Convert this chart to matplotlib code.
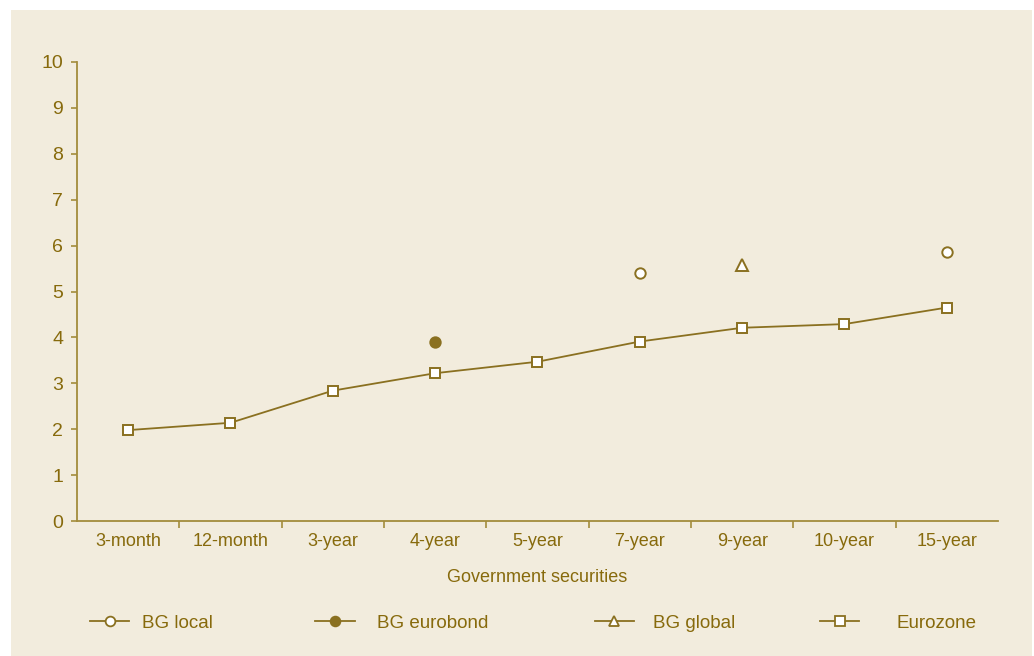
import matplotlib
matplotlib.use("Agg")
import matplotlib.pyplot as plt
import numpy as np
from matplotlib.patches import Rectangle
from matplotlib.lines import Line2D

categories = ["3-month", "12-month", "3-year", "4-year", "5-year",
              "7-year", "9-year", "10-year", "15-year"]
eurozone = [1.98, 2.14, 2.84, 3.22, 3.47, 3.91, 4.21, 4.29, 4.65]
bg_local = [None, None, None, None, None, 5.41, None, None, 5.86]
bg_eurobond = [None, None, None, 3.91, None, None, None, None, None]
bg_global = [None, None, None, None, None, None, 5.58, None, None]
yticks = list(range(0, 11))

BG = "#f2ecdd"
LINE = "#8a7020"
TXT = "#876a0c"
SPINE = "#a38c3c"

plt.rcParams["font.family"] = ["Liberation Sans Narrow", "Liberation Sans", "DejaVu Sans"]

fig = plt.figure(figsize=(10.34, 6.56), dpi=100)
fig.patches.append(Rectangle((11 / 1034, 0), 1021 / 1034, 646 / 656,
                             transform=fig.transFigure, facecolor=BG,
                             edgecolor="none", zorder=-10))
ax = fig.add_axes([77 / 1034, 1 - 521 / 656, 921 / 1034, 459 / 656])
ax.set_facecolor("none")

x = np.arange(len(categories))


def pts(vals):
    xs = [i for i, v in enumerate(vals) if v is not None]
    return xs, [vals[i] for i in xs]


ax.plot(x, eurozone, color=LINE, lw=1.3, marker="s", ms=7.5, mfc="white",
        mec=LINE, mew=1.4, zorder=3)
xs, ys = pts(bg_local)
ax.plot(xs, ys, ls="none", marker="o", ms=7.5, mfc="white", mec=LINE, mew=1.4, zorder=3)
xs, ys = pts(bg_eurobond)
ax.plot(xs, ys, ls="none", marker="o", ms=7.5, mfc=LINE, mec=LINE, mew=1.4, zorder=3)
xs, ys = pts(bg_global)
ax.plot(xs, ys, ls="none", marker="^", ms=8, mfc="white", mec=LINE, mew=1.4, zorder=3)

ax.set_xlim(-0.5, len(categories) - 0.5)
ax.set_ylim(0, 10)
ax.set_yticks(yticks)
ax.set_xticks(x)
ax.set_xticklabels(categories)
ax.set_xticks(np.arange(0.5, len(categories) - 0.5, 1), minor=True)
ax.tick_params(axis="x", which="major", length=0, pad=9, labelsize=13, labelcolor=TXT)
ax.tick_params(axis="x", which="minor", length=5, width=1.2, color=SPINE, direction="out")
ax.tick_params(axis="y", length=4, width=1.2, color=SPINE, pad=6, labelsize=14, labelcolor=TXT)

for s in ["top", "right"]:
    ax.spines[s].set_visible(False)
for s in ["left", "bottom"]:
    ax.spines[s].set_color(SPINE)
    ax.spines[s].set_linewidth(1.3)

ax.set_xlabel("Government securities", color=TXT, fontsize=13, labelpad=13)

# legend entries placed individually along the bottom
entries = [
    ("BG local", dict(marker="o", mfc="white"), 0.087, 0.65),
    ("BG eurobond", dict(marker="o", mfc=LINE), 0.305, 1.2),
    ("BG global", dict(marker="^", mfc="white"), 0.575, 1.0),
    ("Eurozone", dict(marker="s", mfc="white"), 0.793, 2.0),
]
for label, style, xpos, pad in entries:
    h = Line2D([], [], color=LINE, lw=1.3, ms=7, mec=LINE, mew=1.3, **style)
    fig.legend([h], [label], loc="center left", bbox_to_anchor=(xpos, 1 - 623 / 656),
               frameon=False, fontsize=13.5, labelcolor=TXT, handlelength=2.1,
               handletextpad=pad, borderaxespad=0, borderpad=0)

fig.savefig("out.png", dpi=100)
